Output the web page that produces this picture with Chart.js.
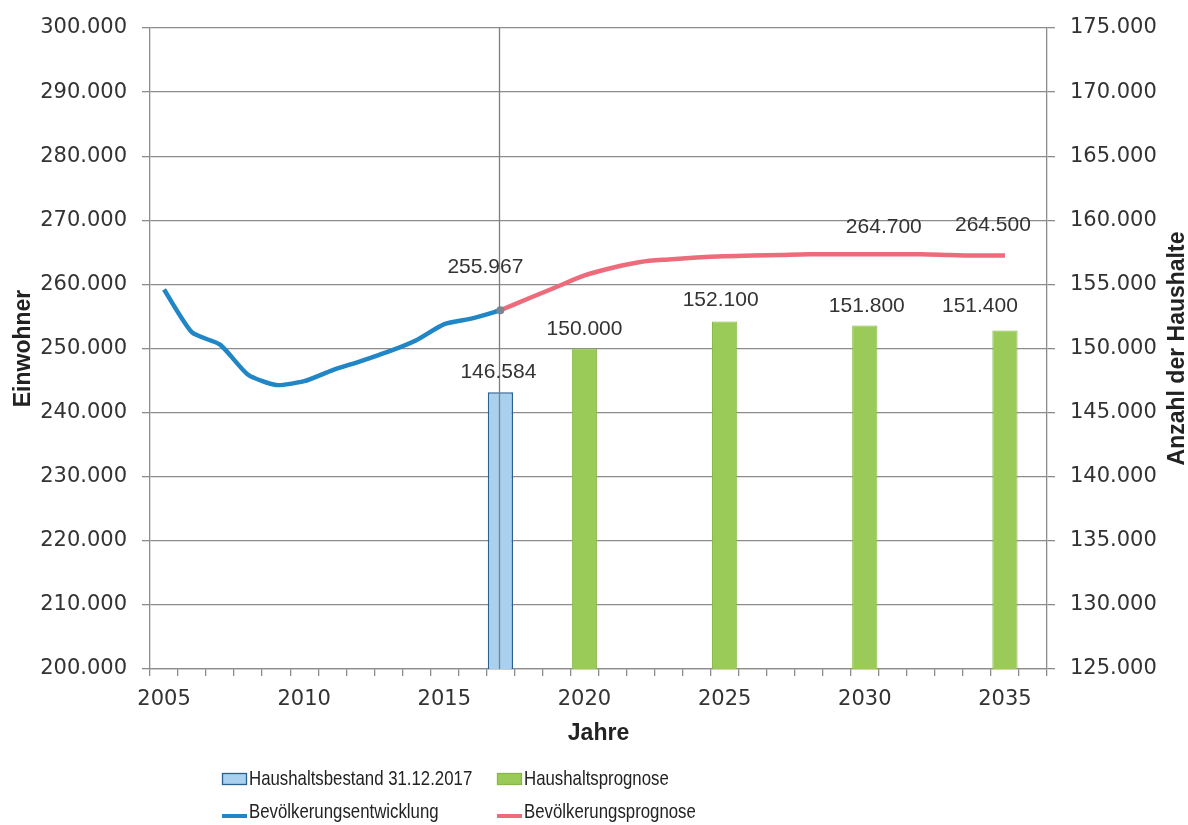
<!DOCTYPE html>
<html>
<head>
<meta charset="utf-8">
<script src="https://cdn.jsdelivr.net/npm/chart.js@4.4.1/dist/chart.umd.min.js"></script>
<style>
html,body{margin:0;padding:0;background:#fff;}
#wrap{width:1188px;height:825px;position:relative;}
</style>
</head>
<body>
<div id="wrap"><canvas id="c" width="1188" height="825"></canvas></div>
<script>
// ---- data ----
const years = [2005,2006,2007,2008,2009,2010,2011,2012,2013,2014,2015,2016,2017,2018,2019,2020,
               2021,2022,2023,2024,2025,2026,2027,2028,2029,2030,2031,2032,2033,2034,2035,2036];
const entwicklungYears = [2005,2006,2007,2008,2009,2010,2011,2012,2013,2014,2015,2016,2017];
const entwicklungValues = [259200,252500,250600,245900,244300,244900,246600,248000,249500,251300,253800,254700,255967];
const prognoseYears = [2017,2018,2019,2020,2021,2022,2023,2024,2025,2026,2027,2028,2029,2030,2031,2032,2033,2034,2035];
const prognoseValues = [255967,257800,259600,261400,262600,263500,263900,264200,264400,264500,264600,264700,264700,264700,264700,264700,264600,264500,264500];
const bestandYears = [2017];
const bestandValues = [146584];
const haushaltYears = [2020,2025,2030,2035];
const haushaltValues = [150000,152100,151800,151400];
const leftAxis = {min:200000, max:300000, step:10000};
const rightAxis = {min:125000, max:175000, step:5000};

// ---- helpers ----
const fmt = v => String(Math.round(v)).replace(/\B(?=(\d{3})+(?!\d))/g, '.');
const spread = (ys, vs) => years.map(y => { const k = ys.indexOf(y); return k < 0 ? null : vs[k]; });

const GRID = '#8c8c8c';
const TXT = '#333333';
const tickFont = {family:'"DejaVu Sans", sans-serif', size:21};
const titleFont = {family:'"Liberation Sans", Arial, sans-serif', size:23, weight:'bold'};

function narrowOK(){
  const c = document.createElement('canvas').getContext('2d');
  c.font = '21px monospace'; const a = c.measureText('Haushaltsprognose').width;
  c.font = '21px "Liberation Sans Narrow", monospace'; const b = c.measureText('Haushaltsprognose').width;
  return Math.abs(a-b) > 0.5;
}
const hasNarrow = narrowOK();
const legendFont = hasNarrow ? '21px "Liberation Sans Narrow"' : '21px "Liberation Sans", Arial, sans-serif';
const legendScaleX = hasNarrow ? 1 : 0.8;

// ---- plugins ----
const refLine = {
  id:'refLine',
  afterDatasetsDraw(chart, args, opts){
    const {ctx, chartArea:a, scales:{x}} = chart;
    const px = Math.round(x.getPixelForValue(years.indexOf(opts.year))) - 0.5;
    ctx.save();
    ctx.strokeStyle = opts.color; ctx.lineWidth = opts.width;
    ctx.beginPath(); ctx.moveTo(px, a.top); ctx.lineTo(px, a.bottom); ctx.stroke();
    ctx.restore();
  }
};

const valueLabels = {
  id:'valueLabels',
  afterDatasetsDraw(chart, args, opts){
    const ctx = chart.ctx;
    ctx.save();
    ctx.font = opts.font; ctx.fillStyle = opts.color;
    ctx.textAlign = 'center'; ctx.textBaseline = 'middle';
    opts.items.forEach(it => {
      const ds = chart.data.datasets[it.dataset];
      const meta = chart.getDatasetMeta(it.dataset);
      const i = years.indexOf(it.year);
      const el = meta.data[i];
      if (!el || ds.data[i] == null) return;
      ctx.fillText(fmt(ds.data[i]), el.x + it.dx, el.y + it.dy);
    });
    ctx.restore();
  }
};

const rightTitle = {
  id:'rightTitle',
  afterDraw(chart, args, opts){
    const {ctx, chartArea:a} = chart;
    const s = chart.scales.y1;
    ctx.save();
    ctx.font = 'bold 23px "Liberation Sans", Arial, sans-serif';
    ctx.fillStyle = '#222';
    ctx.textAlign = 'center'; ctx.textBaseline = 'middle';
    ctx.translate(s.right - opts.inset, (a.top + a.bottom)/2);
    ctx.rotate(-Math.PI/2);
    ctx.fillText(s.options.title.text, 0, 0);
    ctx.restore();
  }
};

const gridLegend = {
  id:'gridLegend',
  afterDraw(chart, args, opts){
    const ctx = chart.ctx;
    const dsets = chart.data.datasets;
    ctx.save();
    dsets.forEach((ds, i) => {
      const col = i % 2, row = Math.floor(i / 2);
      const x = opts.cols[col], y = opts.rows[row];
      if (ds.type === 'bar') {
        ctx.fillStyle = ds.backgroundColor;
        ctx.fillRect(x, y - 6, opts.box, 12);
        ctx.strokeStyle = ds.borderColor; ctx.lineWidth = 1.3;
        ctx.strokeRect(x + 0.5, y - 5.5, opts.box - 1, 11);
      } else {
        ctx.strokeStyle = ds.borderColor; ctx.lineWidth = 4;
        ctx.beginPath(); ctx.moveTo(x, y + 4); ctx.lineTo(x + opts.box, y + 4); ctx.stroke();
      }
      ctx.save();
      ctx.font = legendFont; ctx.fillStyle = '#222';
      ctx.textBaseline = 'middle'; ctx.textAlign = 'left';
      ctx.translate(x + opts.box + 2, y);
      ctx.scale(legendScaleX, 1);
      ctx.fillText(ds.label, 0, 0);
      ctx.restore();
    });
    ctx.restore();
  }
};

// ---- chart ----
new Chart(document.getElementById('c'), {
  data: {
    labels: years.map(String),
    datasets: [
      {type:'bar', label:'Haushaltsbestand 31.12.2017', data: spread(bestandYears, bestandValues), yAxisID:'y1',
       backgroundColor:'#a9d1ef', borderColor:'#2a5f8f', borderWidth:1.5, grouped:false,
       barPercentage:0.9, categoryPercentage:1, order:2},
      {type:'bar', label:'Haushaltsprognose', data: spread(haushaltYears, haushaltValues), yAxisID:'y1',
       backgroundColor:'#9acb58', borderColor:'#86b947', borderWidth:1, grouped:false,
       barPercentage:0.9, categoryPercentage:1, order:2},
      {type:'line', label:'Bevölkerungsentwicklung', data: spread(entwicklungYears, entwicklungValues), yAxisID:'y',
       borderColor:'#2186c6', backgroundColor:'#2186c6', borderWidth:4.5, tension:0.2, pointRadius:0,
       spanGaps:false, order:1},
      {type:'line', label:'Bevölkerungsprognose', data: spread(prognoseYears, prognoseValues), yAxisID:'y',
       borderColor:'#ee6b7c', backgroundColor:'#7d8893', borderWidth:4.5, tension:0.3,
       pointRadius: c => years[c.dataIndex] === 2017 ? 4 : 0, pointBorderWidth:0,
       spanGaps:false, order:0}
    ]
  },
  options: {
    responsive:false, animation:false,
    layout:{padding:{top:28, bottom:76, left:0, right:0}},
    plugins:{
      legend:{display:false}, tooltip:{enabled:false},
      refLine:{year:2017, color:'#7f7f7f', width:1.3},
      valueLabels:{
        font:'21px "Liberation Sans", Arial, sans-serif', color:TXT,
        items:[
          {dataset:2, year:2017, dx:-15, dy:-43},
          {dataset:3, year:2030, dx:19, dy:-27},
          {dataset:3, year:2035, dx:-12, dy:-30},
          {dataset:0, year:2017, dx:-2, dy:-20},
          {dataset:1, year:2020, dx:0, dy:-19},
          {dataset:1, year:2025, dx:-4, dy:-21},
          {dataset:1, year:2030, dx:2, dy:-19},
          {dataset:1, year:2035, dx:-25, dy:-24}
        ]
      },
      rightTitle:{inset:10},
      gridLegend:{cols:[222, 497], rows:[779, 812], box:25}
    },
    scales:{
      x:{
        type:'category', offset:true,
        grid:{offset:true, drawOnChartArea:false, drawTicks:true, tickLength:7, color:GRID, lineWidth:1.3},
        border:{display:true, color:GRID, width:1.3},
        ticks:{autoSkip:false, maxRotation:0, minRotation:0, padding:11, font:tickFont, color:TXT,
               callback:(v, i) => years[i] % 5 === 0 ? String(years[i]) : ''},
        title:{display:true, text:'Jahre', font:titleFont, color:'#222', padding:{top:0, bottom:2}},
        afterFit: s => { s.height = 80; }
      },
      y:{
        type:'linear', position:'left', min:leftAxis.min, max:leftAxis.max,
        ticks:{stepSize:leftAxis.step, padding:15, font:tickFont, color:TXT, callback: v => fmt(v)},
        grid:{color:GRID, lineWidth:1.3, tickLength:8},
        border:{display:true, color:GRID, width:1.3},
        title:{display:true, text:'Einwohner', font:titleFont, color:'#222', padding:{top:10, bottom:0}},
        afterFit: s => { s.width = 150; }
      },
      y1:{
        type:'linear', position:'right', min:rightAxis.min, max:rightAxis.max,
        ticks:{stepSize:rightAxis.step, padding:15, font:tickFont, color:TXT, callback: v => fmt(v)},
        grid:{drawOnChartArea:false, color:GRID, lineWidth:1.3, tickLength:8},
        border:{display:true, color:GRID, width:1.3},
        title:{display:false, text:'Anzahl der Haushalte'},
        afterFit: s => { s.width = 141; }
      }
    }
  },
  plugins:[refLine, valueLabels, rightTitle, gridLegend]
});
</script>
</body>
</html>
